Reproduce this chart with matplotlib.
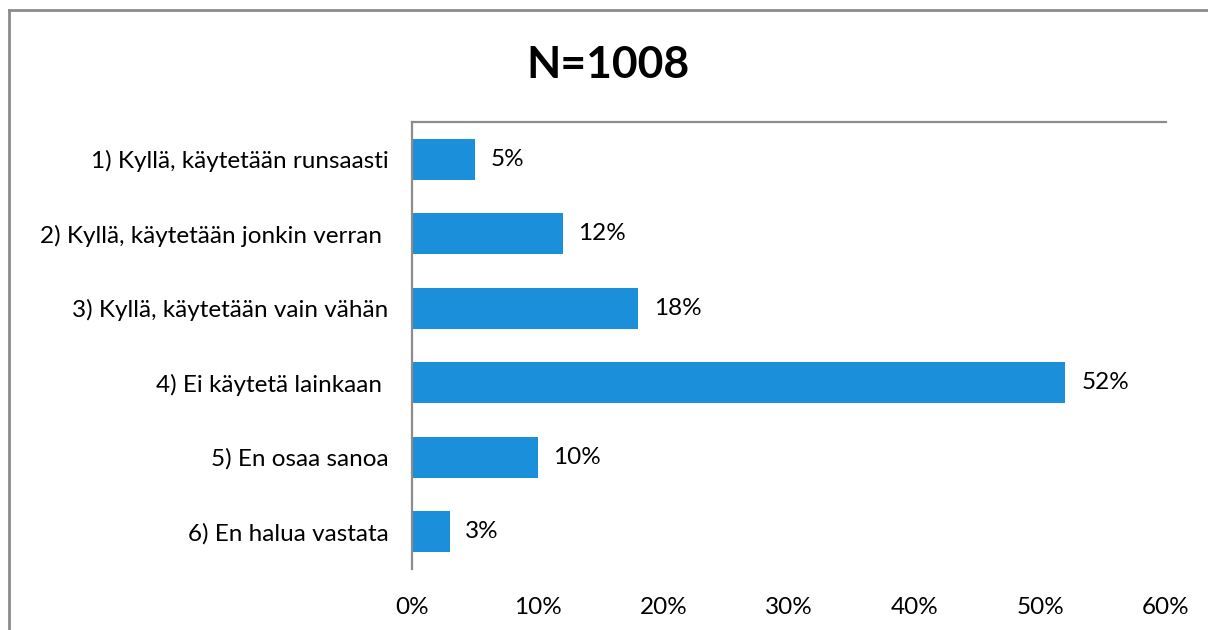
import matplotlib
matplotlib.use("Agg")
import matplotlib.pyplot as plt
from matplotlib.lines import Line2D
from matplotlib.ticker import FuncFormatter

plt.rcParams['font.family'] = ['Lato', 'DejaVu Sans']

categories = [
    "1) Kyllä, käytetään runsaasti",
    "2) Kyllä, käytetään jonkin verran ",
    "3) Kyllä, käytetään vain vähän",
    "4) Ei käytetä lainkaan ",
    "5) En osaa sanoa",
    "6) En halua vastata",
]
values = [5, 12, 18, 52, 10, 3]
x_ticks = [0, 10, 20, 30, 40, 50, 60]
title = "N=1008"

bar_color = "#1C8FDA"
spine_color = "#8C8C8C"
fs = 17.5

W, H = 1208, 630
fig = plt.figure(figsize=(W / 100, H / 100), dpi=100)

# axes placed in pixel terms: x 412..1166, y 122..569
ax = fig.add_axes([412 / W, 1 - 569 / H, (1166 - 412) / W, (569 - 122) / H])

y = list(range(len(categories)))
ax.barh(y, values, height=0.556, color=bar_color)
ax.set_ylim(len(categories) - 0.5, -0.5)
ax.set_xlim(0, 60)

for yi, v in zip(y, values):
    ax.text(v + 1.25, yi, f"{v}%", va="center", ha="left", fontsize=fs, color="black")

ax.set_yticks(y)
ax.set_yticklabels(categories, fontsize=fs)
ax.set_xticks(x_ticks)
ax.xaxis.set_major_formatter(FuncFormatter(lambda v, p: f"{v:.0f}%"))
ax.tick_params(axis="x", labelsize=fs, length=0, pad=20)
ax.tick_params(axis="y", length=0, pad=17)

for side in ["right", "bottom"]:
    ax.spines[side].set_visible(False)
for side in ["left", "top"]:
    ax.spines[side].set_color(spine_color)
    ax.spines[side].set_linewidth(1.6)

fig.text(608 / W, 1 - 65 / H, title, ha="center", va="center",
         fontsize=32, fontweight="bold")

# outer chart border (top and left edges visible)
fig.add_artist(Line2D([9 / W, 1], [1 - 10 / H, 1 - 10 / H], color=spine_color, lw=2,
                      transform=fig.transFigure))
fig.add_artist(Line2D([9 / W, 9 / W], [0, 1 - 10 / H], color=spine_color, lw=2,
                      transform=fig.transFigure))

fig.savefig("out.png", dpi=100)
